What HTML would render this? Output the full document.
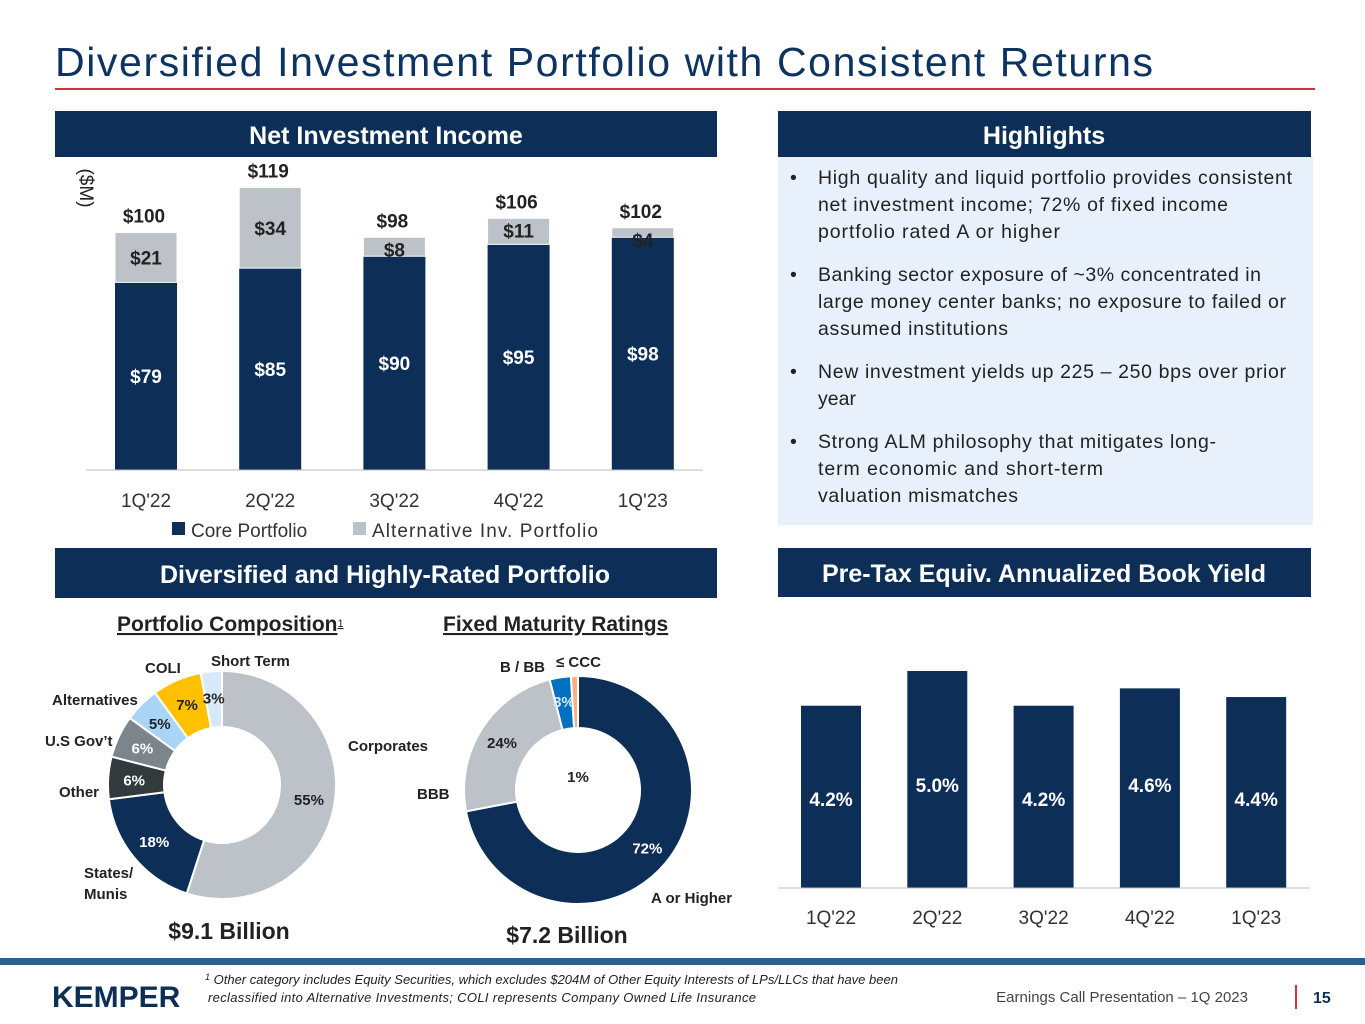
<!DOCTYPE html>
<html><head><meta charset="utf-8"><style>
body{margin:0;width:1365px;height:1024px;overflow:hidden;background:#fff;font-family:"Liberation Sans",sans-serif}
svg{display:block}
text{font-family:"Liberation Sans",sans-serif}
</style></head><body>
<svg width="1365" height="1024" viewBox="0 0 1365 1024">
<text x="55" y="76" font-size="41" fill="#0d3360" textLength="1098" lengthAdjust="spacing">Diversified Investment Portfolio with Consistent Returns</text>
<rect x="55" y="88" width="1260" height="2" fill="#d6323a"/>

<rect x="55" y="111" width="662" height="46" fill="#0d2f57"/>
<text x="386" y="144" font-size="25" font-weight="bold" fill="#fff" text-anchor="middle">Net Investment Income</text>
<text transform="translate(80,188) rotate(90)" font-size="19" fill="#222" text-anchor="middle">($M)</text>
<g id="nii"></g>
<line x1="86" y1="470" x2="703" y2="470" stroke="#bbb"/>
<rect x="172" y="522" width="13" height="13" fill="#0d2f57"/>
<text x="191" y="537" font-size="19" fill="#333">Core Portfolio</text>
<rect x="353" y="522" width="13" height="13" fill="#bcc2c8"/>
<text x="372" y="537" font-size="19" fill="#333" textLength="226" lengthAdjust="spacing">Alternative Inv. Portfolio</text>

<rect x="778" y="111" width="533" height="46" fill="#0d2f57"/>
<text x="1044" y="144" font-size="25" font-weight="bold" fill="#fff" text-anchor="middle">Highlights</text>
<rect x="778" y="157" width="535" height="368" fill="#e8f1fb"/>
<g font-size="19.5" fill="#222">
<text x="790" y="184">•</text><text x="818" y="184" textLength="474" lengthAdjust="spacing">High quality and liquid portfolio provides consistent</text>
<text x="818" y="211" textLength="410" lengthAdjust="spacing">net investment income; 72% of fixed income</text>
<text x="818" y="238" textLength="242" lengthAdjust="spacing">portfolio rated A or higher</text>
<text x="790" y="281">•</text><text x="818" y="281" textLength="443" lengthAdjust="spacing">Banking sector exposure of ~3% concentrated in</text>
<text x="818" y="308" textLength="468" lengthAdjust="spacing">large money center banks; no exposure to failed or</text>
<text x="818" y="335" textLength="190" lengthAdjust="spacing">assumed institutions</text>
<text x="790" y="378">•</text><text x="818" y="378" textLength="468" lengthAdjust="spacing">New investment yields up 225 – 250 bps over prior</text>
<text x="818" y="405">year</text>
<text x="790" y="448">•</text><text x="818" y="448" textLength="398" lengthAdjust="spacing">Strong ALM philosophy that mitigates long-</text>
<text x="818" y="475" textLength="285" lengthAdjust="spacing">term economic and short-term</text>
<text x="818" y="502" textLength="200" lengthAdjust="spacing">valuation mismatches</text>
</g>

<rect x="55" y="548" width="662" height="50" fill="#0d2f57"/>
<text x="385" y="583" font-size="25" font-weight="bold" fill="#fff" text-anchor="middle">Diversified and Highly-Rated Portfolio</text>
<rect x="778" y="548" width="533" height="49" fill="#0d2f57"/>
<text x="1044" y="582" font-size="25" font-weight="bold" fill="#fff" text-anchor="middle">Pre-Tax Equiv. Annualized Book Yield</text>

<text x="117" y="631" font-size="21" font-weight="bold" fill="#222" text-decoration="underline">Portfolio Composition<tspan font-size="11" font-weight="normal" dy="-4">1</tspan></text>
<text x="443" y="631" font-size="21" font-weight="bold" fill="#222" text-decoration="underline">Fixed Maturity Ratings</text>
<g id="d1"></g>
<g id="d2"></g>
<g font-size="15" font-weight="bold" fill="#222">
<text x="211" y="666">Short Term</text><text x="145" y="673">COLI</text><text x="52" y="705">Alternatives</text>
<text x="45" y="746">U.S Gov’t</text><text x="59" y="797">Other</text><text x="348" y="751">Corporates</text>
<text x="84" y="878">States/</text><text x="84" y="899">Munis</text>
<text x="500" y="672">B / BB</text><text x="556" y="667">≤ CCC</text><text x="417" y="799">BBB</text><text x="651" y="903">A or Higher</text>
</g>
<text x="229" y="939" font-size="23" font-weight="bold" fill="#222" text-anchor="middle">$9.1 Billion</text>
<text x="567" y="943" font-size="23" font-weight="bold" fill="#222" text-anchor="middle">$7.2 Billion</text>

<g id="yld"></g>
<line x1="778" y1="888" x2="1310" y2="888" stroke="#bbb"/>

<rect x="0" y="958" width="1365" height="7" fill="#2f5d8c"/>
<text x="52" y="1007" font-size="30" font-weight="bold" fill="#0d2f57">KEMPER</text>
<g font-size="13" font-style="italic" fill="#222">
<text x="205" y="984"><tspan font-size="9" dy="-4">1</tspan><tspan dy="4"> Other category includes Equity Securities, which excludes $204M of Other Equity Interests of LPs/LLCs that have been</tspan></text>
<text x="208" y="1002" textLength="548" lengthAdjust="spacing">reclassified into Alternative Investments; COLI represents Company Owned Life Insurance</text>
</g>
<text x="1248" y="1002" font-size="15" fill="#444" text-anchor="end">Earnings Call Presentation – 1Q 2023</text>
<rect x="1295" y="985" width="2" height="24" fill="#d6323a"/>
<text x="1313" y="1003" font-size="16" font-weight="bold" fill="#0d2f57">15</text>
</svg>
<script>
const quarters=["1Q'22","2Q'22","3Q'22","4Q'22","1Q'23"];
const coreVals=[79,85,90,95,98];
const altVals=[21,34,8,11,4];
const totalVals=[100,119,98,106,102];
const yieldVals=[4.2,5.0,4.2,4.6,4.4];
const compLabels=["Corporates","States/Munis","Other","U.S Gov't","Alternatives","COLI","Short Term"];
const compVals=[55,18,6,6,5,7,3];
const ratingLabels=["A or Higher","BBB","B / BB","<= CCC"];
const ratingVals=[72,24,3,1];
const NS="http://www.w3.org/2000/svg";
function mk(p,t,a){const e=document.createElementNS(NS,t);for(const k in a)e.setAttribute(k,a[k]);p.appendChild(e);return e;}
const nii=document.getElementById('nii');
const nx=i=>146+i*124.2, ny=v=>470-v*2.375;
quarters.forEach((q,i)=>{
 const c=mk(nii,'rect',{x:nx(i)-31,y:ny(coreVals[i]),width:62,height:470-ny(coreVals[i]),fill:'#0d2f57'});
 
 
 const a=mk(nii,'rect',{x:nx(i)-31,y:ny(coreVals[i]+altVals[i]),width:62,height:altVals[i]*2.375,fill:'#bcc2c8',stroke:'#fff','stroke-width':1});
 
 
 const cl=mk(nii,'text',{x:nx(i),y:(ny(coreVals[i])+470)/2+7,'font-size':19,'font-weight':'bold',fill:'#fff','text-anchor':'middle'});cl.textContent='$'+coreVals[i];
 
 
 const ay=altVals[i]<15?ny(coreVals[i]+altVals[i])+19:(ny(coreVals[i])+ny(coreVals[i]+altVals[i]))/2+7;
 const al=mk(nii,'text',{x:nx(i),y:ay,'font-size':19,'font-weight':'bold',fill:'#222','text-anchor':'middle'});al.textContent='$'+altVals[i];
 
 
 const tl=mk(nii,'text',{x:nx(i)-2,y:ny(coreVals[i]+altVals[i])-10,'font-size':19,'font-weight':'bold',fill:'#222','text-anchor':'middle'});tl.textContent='$'+totalVals[i];
 
 
 const xl=mk(nii,'text',{x:nx(i),y:507,'font-size':19,fill:'#333','text-anchor':'middle'});xl.textContent=quarters[i];
 
 
});
const yg=document.getElementById('yld');
const yx=i=>831+i*106.3, yy=v=>888-v*43.4;
quarters.forEach((q,i)=>{
 const b=mk(yg,'rect',{x:yx(i)-30,y:yy(yieldVals[i]),width:60,height:888-yy(yieldVals[i]),fill:'#0d2f57'});
 
 
 const t=mk(yg,'text',{x:yx(i),y:yieldVals[i]>=4.6?792:806,'font-size':19,'font-weight':'bold',fill:'#fff','text-anchor':'middle'});t.textContent=yieldVals[i].toFixed(1)+'%';
 
 
 const xl=mk(yg,'text',{x:yx(i),y:924,'font-size':19,fill:'#333','text-anchor':'middle'});xl.textContent=q;
 
 
});
function donut(g,cx,cy,R,r,vals,cols,txtCols,lblR,hide){
 let a0=0;const tot=vals.reduce((s,v)=>s+v,0);
 vals.forEach((v,i)=>{
  const a1=a0+v/tot*2*Math.PI;
  const P=(rad,a)=>[cx+rad*Math.sin(a),cy-rad*Math.cos(a)];
  const [x1,y1]=P(R,a0),[x2,y2]=P(R,a1),[x3,y3]=P(r,a1),[x4,y4]=P(r,a0);
  const lg=(a1-a0)>Math.PI?1:0;
  const p=mk(g,'path',{d:`M${x1},${y1}A${R},${R} 0 ${lg} 1 ${x2},${y2}L${x3},${y3}A${r},${r} 0 ${lg} 0 ${x4},${y4}Z`,fill:cols[i],stroke:'#fff','stroke-width':2});
  
  
  if(!hide[i]){const am=(a0+a1)/2;const [tx,ty]=P(lblR,am);
  const t=mk(g,'text',{x:tx,y:ty+6,'font-size':15,'font-weight':'bold',fill:txtCols[i],'text-anchor':'middle'});t.textContent=v+'%';
  
  }
  a0=a1;
 });
}
donut(document.getElementById('d1'),222,785,114,58,compVals,['#bcc2c8','#0d2f57','#333a3e','#7d858c','#a9d4f5','#ffc000','#d6e9f8'],['#222','#fff','#fff','#fff','#222','#222','#222'],88,[0,0,0,0,0,0,0]);
donut(document.getElementById('d2'),578,790,114,62,ratingVals,['#0d2f57','#bcc2c8','#0070c0','#f4b183'],['#fff','#222','#d6e9f8','#222'],90,[0,0,0,1]);
const c1=mk(document.getElementById('d2'),'text',{x:578,y:782,'font-size':15,'font-weight':'bold',fill:'#222','text-anchor':'middle'});c1.textContent=ratingVals[3]+'%';


</script>
</body></html>
